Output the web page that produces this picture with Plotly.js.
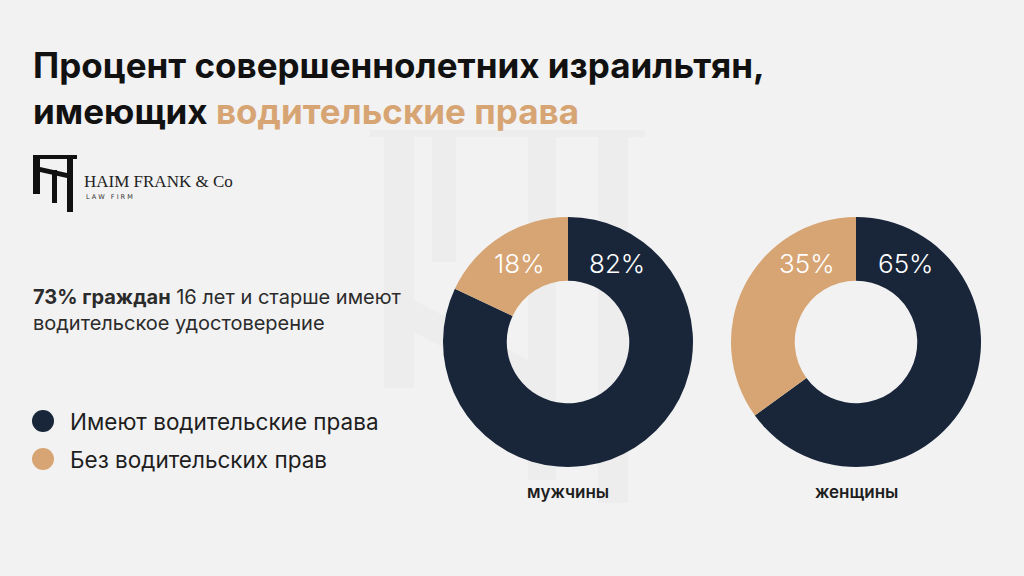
<!DOCTYPE html>
<html>
<head>
<meta charset="utf-8">
<script src="https://cdn.plot.ly/plotly-3.0.1.min.js"></script>
<style>
  html, body { margin: 0; padding: 0; background: #f2f2f2; }
  #myDiv { width: 1024px; height: 576px; }
</style>
</head>
<body>
<div id="myDiv"></div>
<script>
var divId = "myDiv";

// data
var groups = ["мужчины", "женщины"];
var statusLabels = ["Имеют водительские права", "Без водительских прав"];
var withLicense = [82, 65];
var withoutLicense = [18, 35];

var navy = "#19263a";
var tan = "#d7a574";
var W = 1024, H = 576;

// pixel -> paper helpers
function px(x) { return x / W; }
function py(y) { return 1 - y / H; }

var centersX = [568, 856];
var centerY = 342;
var R = 125;

var data = [];
var annotations = [];

groups.forEach(function (g, i) {
  var cx = centersX[i];
  data.push({
    type: "pie",
    name: g,
    labels: statusLabels,
    values: [withLicense[i], withoutLicense[i]],
    hole: 0.49,
    sort: false,
    direction: "clockwise",
    rotation: 0,
    textinfo: "none",
    marker: { colors: [navy, tan], line: { width: 0 } },
    domain: { x: [px(cx - R), px(cx + R)], y: [py(centerY + R), py(centerY - R)] },
    showlegend: false,
    hoverinfo: "label+percent"
  });
  // slice labels at top of ring
  annotations.push({
    xref: "paper", yref: "paper", x: px(cx + 49), y: py(264),
    xanchor: "center", yanchor: "middle",
    text: withLicense[i] + "%", showarrow: false,
    font: { family: "Inter", size: 26, color: "#ffffff", weight: 300 }
  });
  annotations.push({
    xref: "paper", yref: "paper", x: px(cx - 49), y: py(264),
    xanchor: "center", yanchor: "middle",
    text: withoutLicense[i] + "%", showarrow: false,
    font: { family: "Inter", size: 26, color: "#ffffff", weight: 300 }
  });
  // group caption
  annotations.push({
    xref: "paper", yref: "paper", x: px(cx), y: py(492),
    xanchor: "center", yanchor: "middle",
    text: g, showarrow: false,
    font: { family: "Inter", size: 17, color: "#1e1e1e", weight: 600 }
  });
});

// title
annotations.push({
  xref: "paper", yref: "paper", x: px(31), y: py(88),
  xanchor: "left", yanchor: "middle", align: "left",
  text: "<b>Процент совершеннолетних израильтян,<br>имеющих <span style='color:" + tan + "'>водительские права</span></b>",
  showarrow: false,
  font: { family: "Inter", size: 35, color: "#111111" }
});

// logo text
annotations.push({
  xref: "paper", yref: "paper", x: px(82), y: py(181),
  xanchor: "left", yanchor: "middle",
  text: "HAIM FRANK &amp; Co", showarrow: false,
  font: { family: "Liberation Serif", size: 17, color: "#222222" }
});
annotations.push({
  xref: "paper", yref: "paper", x: px(84), y: py(197),
  xanchor: "left", yanchor: "middle",
  text: "L A W &nbsp; F I R M", showarrow: false,
  font: { family: "DejaVu Sans", size: 6.5, color: "#333333" }
});

// side note
annotations.push({
  xref: "paper", yref: "paper", x: px(31), y: py(310),
  xanchor: "left", yanchor: "middle", align: "left",
  text: "<b>73% граждан</b> 16 лет и старше имеют<br>водительское удостоверение",
  showarrow: false,
  font: { family: "Inter", size: 20, color: "#2b2b2b" }
});

// legend
var legendY = [421, 459];
var shapes = [];
statusLabels.forEach(function (lab, i) {
  annotations.push({
    xref: "paper", yref: "paper", x: px(68), y: py(legendY[i]),
    xanchor: "left", yanchor: "middle",
    text: lab, showarrow: false,
    font: { family: "Inter", size: 22.5, color: "#1e1e1e" }
  });
  shapes.push({
    type: "circle", xref: "paper", yref: "paper",
    x0: px(32), x1: px(54), y0: py(legendY[i] + 11), y1: py(legendY[i] - 11),
    fillcolor: i === 0 ? navy : tan, line: { width: 0 }
  });
});

// faint watermark
var wm = "#ededed";
function rect(x0, y0, x1, y1, c) {
  return { type: "rect", xref: "paper", yref: "paper", layer: "below",
    x0: px(x0), x1: px(x1), y0: py(y1), y1: py(y0), fillcolor: c, line: { width: 0 } };
}
shapes.push(rect(370, 130, 645, 137, wm));
shapes.push(rect(384, 137, 414, 388, wm));
shapes.push(rect(432, 137, 456, 262, wm));
shapes.push(rect(528, 137, 556, 480, wm));
shapes.push(rect(598, 137, 628, 503, wm));
shapes.push({ type: "path", xref: "paper", yref: "paper", layer: "below",
  path: "M" + px(414) + "," + py(300) + " L" + px(528) + "," + py(360) + " L" + px(528) + "," + py(392) + " L" + px(414) + "," + py(332) + " Z",
  fillcolor: wm, line: { width: 0 } });

// logo glyph
var ink = "#111111";
shapes.push(rect(33, 155, 77, 159, ink));
shapes.push(rect(33, 155, 40, 194, ink));
shapes.push(rect(52, 170, 57, 203, ink));
shapes.push(rect(67, 155, 73, 212, ink));
shapes.push({ type: "path", xref: "paper", yref: "paper",
  path: "M" + px(40) + "," + py(167) + " L" + px(67) + "," + py(173) + " L" + px(67) + "," + py(178) + " L" + px(40) + "," + py(172) + " Z",
  fillcolor: ink, line: { width: 0 } });

var layouts = {
  width: W,
  height: H,
  margin: { l: 0, r: 0, t: 0, b: 0 },
  paper_bgcolor: "#f2f2f2",
  plot_bgcolor: "#f2f2f2",
  showlegend: false,
  annotations: annotations,
  shapes: shapes
};

var display = { displayModeBar: false };

Plotly.newPlot(divId, data, layouts, display);
</script>
</body>
</html>
